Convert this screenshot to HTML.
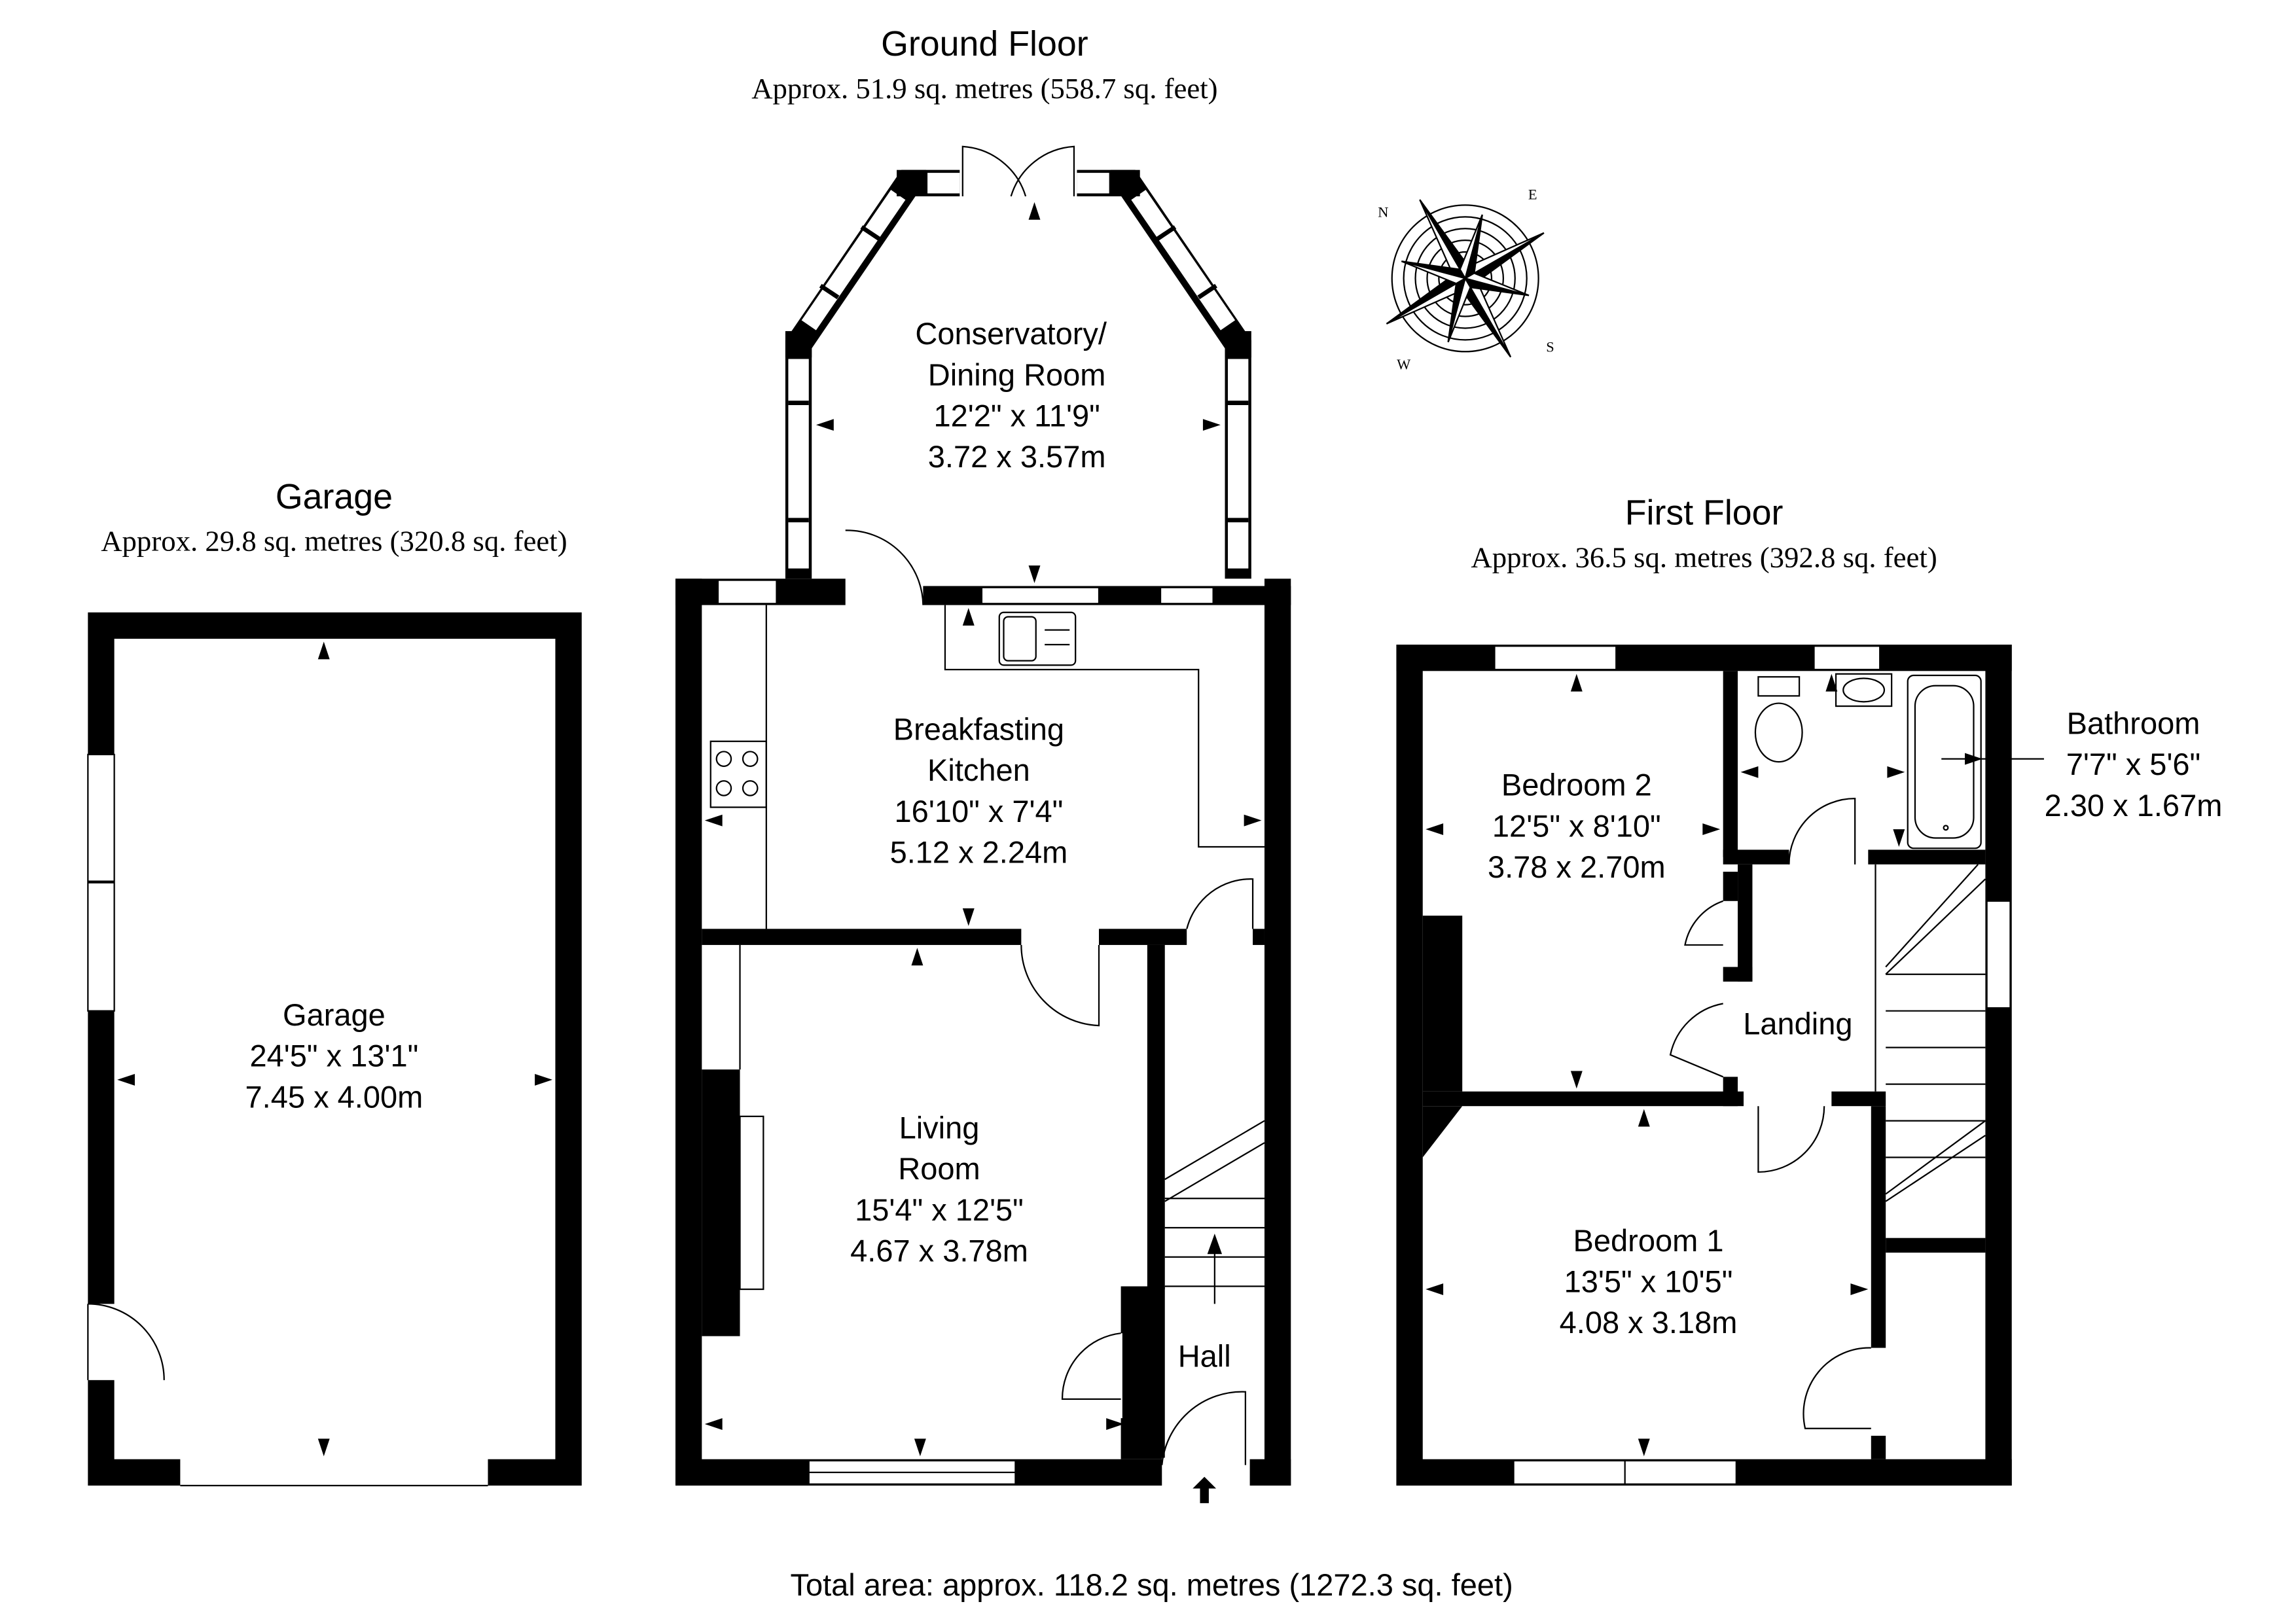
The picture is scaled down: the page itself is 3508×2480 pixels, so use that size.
<!DOCTYPE html>
<html><head><meta charset="utf-8"><style>
html,body{margin:0;padding:0;background:#fff;}
svg{display:block;}
.t{font-family:"Liberation Sans",sans-serif;fill:#000;text-anchor:middle;}
.s{font-family:"Liberation Serif",serif;fill:#000;text-anchor:middle;}
</style></head><body>
<svg width="3508" height="2480" viewBox="0 0 1567 1107.8" xmlns="http://www.w3.org/2000/svg">
<rect width="1567" height="1107.8" fill="#fff"/>
<text class="t" x="672" y="38" font-size="24">Ground Floor</text>
<text class="s" x="672" y="67" font-size="20">Approx. 51.9 sq. metres (558.7 sq. feet)</text>
<text class="t" x="228" y="347" font-size="24">Garage</text>
<text class="s" x="228" y="376" font-size="20">Approx. 29.8 sq. metres (320.8 sq. feet)</text>
<text class="t" x="1163" y="358" font-size="24">First Floor</text>
<text class="s" x="1163" y="387" font-size="20">Approx. 36.5 sq. metres (392.8 sq. feet)</text>
<text class="t" x="786" y="1089" font-size="21">Total area: approx. 118.2 sq. metres (1272.3 sq. feet)</text>

<!-- GARAGE -->
<rect x="60" y="418" width="337" height="596" fill="#000"/>
<rect x="78" y="436" width="301" height="560" fill="#fff"/>
<rect x="60" y="515" width="18" height="175" fill="#fff" stroke="#000" stroke-width="1"/>
<line x1="60" y1="602" x2="78" y2="602" stroke="#000" stroke-width="2"/>
<rect x="59" y="890" width="20" height="52" fill="#fff"/>
<path d="M60 890 A52 52 0 0 1 112 942" fill="none" stroke="#000" stroke-width="1"/>
<line x1="60" y1="890" x2="60" y2="942" stroke="#000" stroke-width="1"/>
<rect x="123" y="995" width="210" height="20" fill="#fff"/>
<line x1="123" y1="1014" x2="333" y2="1014" stroke="#000" stroke-width="1"/>
<text class="t" x="228" y="700" font-size="21">Garage</text>
<text class="t" x="228" y="728" font-size="21">24'5" x 13'1"</text>
<text class="t" x="228" y="756" font-size="21">7.45 x 4.00m</text>
<g fill="#000">
<path d="M221 438 l-4 12 h8z"/><path d="M221 994 l-4 -12 h8z"/>
<path d="M80 737 l12 -4 v8z"/><path d="M377 737 l-12 -4 v8z"/>
</g>

<!-- GROUND FLOOR -->
<g fill="#000">
<rect x="461" y="395" width="18" height="619"/>
<rect x="863" y="395" width="18" height="619"/>
<rect x="461" y="395" width="116" height="18"/>
<rect x="630" y="400" width="251" height="13"/>
<rect x="461" y="996" width="420" height="18"/>
<rect x="479" y="634" width="218" height="11"/>
<rect x="750" y="634" width="60" height="11"/>
<rect x="783" y="645" width="12" height="235"/>
<rect x="765" y="878" width="30" height="118"/>
<rect x="479" y="730" width="26" height="182"/>
</g>
<rect x="490" y="396" width="40" height="16" fill="#fff" stroke="#000" stroke-width="1"/>
<rect x="670" y="401" width="80" height="11" fill="#fff" stroke="#000" stroke-width="1"/>
<rect x="792" y="401" width="36" height="11" fill="#fff" stroke="#000" stroke-width="1"/>
<rect x="552" y="997" width="141" height="16" fill="#fff" stroke="#000" stroke-width="1"/>
<line x1="552" y1="1005" x2="693" y2="1005" stroke="#000" stroke-width="1"/>
<rect x="793" y="995" width="60" height="20" fill="#fff"/>
<path d="M793 1000 A55 55 0 0 1 850 950 V1000" fill="none" stroke="#000" stroke-width="1"/>
<rect x="810" y="634" width="53" height="11" fill="#fff"/>
<rect x="855" y="634" width="8" height="11" fill="#000"/>
<path d="M810 634 A45 45 0 0 1 855 600 V634" fill="none" stroke="#000" stroke-width="1"/>
<path d="M697 645 A55 55 0 0 0 750 700 V645" fill="none" stroke="#000" stroke-width="1"/>
<rect x="764" y="910" width="2" height="58" fill="#fff"/>
<path d="M765 910 A45 45 0 0 0 725 955 H765" fill="none" stroke="#000" stroke-width="1"/>
<path d="M577 362 A52 52 0 0 1 630 413" fill="none" stroke="#000" stroke-width="1"/>
<g fill="none" stroke="#000" stroke-width="1">
<line x1="523" y1="413" x2="523" y2="634"/>
<polyline points="645,413 645,457 818,457 818,578 863,578"/>
<rect x="682" y="418" width="52" height="36" rx="3"/>
<rect x="685" y="421" width="22" height="30" rx="3"/>
<line x1="713" y1="430" x2="730" y2="430"/><line x1="713" y1="440" x2="730" y2="440"/>
<rect x="485" y="506" width="38" height="45"/>
<circle cx="494" cy="518" r="5"/><circle cx="512" cy="518" r="5"/>
<circle cx="494" cy="538" r="5"/><circle cx="512" cy="538" r="5"/>
<line x1="505" y1="645" x2="505" y2="730"/>
<rect x="505" y="762" width="16" height="118"/>
<polyline points="795,805 863,765"/><polyline points="795,820 863,780"/>
<line x1="795" y1="818" x2="863" y2="818"/><line x1="795" y1="838" x2="863" y2="838"/>
<line x1="795" y1="858" x2="863" y2="858"/><line x1="795" y1="878" x2="863" y2="878"/>
<line x1="829" y1="850" x2="829" y2="890"/>
</g>
<path d="M829 842 l-5 14 h10z" fill="#000"/>
<path d="M822 1008 l-8 8 h5 v10 h6 v-10 h5z" fill="#000"/>
<polyline points="545,395 545,235 620,125 655,125" fill="none" stroke="#000" stroke-width="18"/>
<polyline points="845,395 845,235 770,125 735,125" fill="none" stroke="#000" stroke-width="18"/>
<polyline points="545,388 545,245" fill="none" stroke="#fff" stroke-width="14"/>
<polyline points="845,388 845,245" fill="none" stroke="#fff" stroke-width="14"/>
<polyline points="552,222 613,133" fill="none" stroke="#fff" stroke-width="12"/>
<polyline points="838,222 777,133" fill="none" stroke="#fff" stroke-width="12"/>
<polyline points="633,125 655,125" fill="none" stroke="#fff" stroke-width="14"/>
<polyline points="735,125 757,125" fill="none" stroke="#fff" stroke-width="14"/>
<g stroke="#000" stroke-width="3">
<line x1="538" y1="275" x2="552" y2="275"/><line x1="538" y1="355" x2="552" y2="355"/>
<line x1="838" y1="275" x2="852" y2="275"/><line x1="838" y1="355" x2="852" y2="355"/>
<line x1="560" y1="195" x2="572" y2="203"/><line x1="588" y1="155" x2="600" y2="163"/>
<line x1="830" y1="195" x2="818" y2="203"/><line x1="802" y1="155" x2="790" y2="163"/>
</g>
<g fill="#000"><rect x="612" y="116" width="20" height="18"/><rect x="758" y="116" width="20" height="18"/>
<rect x="536" y="226" width="18" height="18"/><rect x="836" y="226" width="18" height="18"/></g>
<path d="M657 134 V100 A48 48 0 0 1 700 134 M733 134 V100 A48 48 0 0 0 690 134" fill="none" stroke="#000" stroke-width="1"/>
<g fill="#000">
<path d="M706 138 l-4 12 h8z"/><path d="M706 398 l-4 -12 h8z"/>
<path d="M557 290 l12 -4 v8z"/><path d="M833 290 l-12 -4 v8z"/>
<path d="M661 415 l-4 12 h8z"/><path d="M661 632 l-4 -12 h8z"/>
<path d="M481 560 l12 -4 v8z"/><path d="M861 560 l-12 -4 v8z"/>
<path d="M626 647 l-4 12 h8z"/><path d="M628 994 l-4 -12 h8z"/>
<path d="M481 972 l12 -4 v8z"/><path d="M767 972 l-12 -4 v8z"/>
</g>
<text class="t" x="690" y="235" font-size="21">Conservatory/</text>
<text class="t" x="694" y="263" font-size="21">Dining Room</text>
<text class="t" x="694" y="291" font-size="21">12'2" x 11'9"</text>
<text class="t" x="694" y="319" font-size="21">3.72 x 3.57m</text>
<text class="t" x="668" y="505" font-size="21">Breakfasting</text>
<text class="t" x="668" y="533" font-size="21">Kitchen</text>
<text class="t" x="668" y="561" font-size="21">16'10" x 7'4"</text>
<text class="t" x="668" y="589" font-size="21">5.12 x 2.24m</text>
<text class="t" x="641" y="777" font-size="21">Living</text>
<text class="t" x="641" y="805" font-size="21">Room</text>
<text class="t" x="641" y="833" font-size="21">15'4" x 12'5"</text>
<text class="t" x="641" y="861" font-size="21">4.67 x 3.78m</text>
<text class="t" x="822" y="933" font-size="21">Hall</text>

<!-- COMPASS -->
<g transform="translate(1000,190)" fill="none" stroke="#000" stroke-width="1">
<circle r="50"/><circle r="42"/><circle r="34"/><circle r="26"/><circle r="18"/>
<g transform="rotate(-30)">
<path d="M0 -62 L6 -6 L0 0z M0 62 L-6 6 L0 0z M-62 0 L-6 -6 L0 0z M62 0 L6 6 L0 0z" fill="#000"/>
<path d="M0 -62 L-6 -6 L0 0z M0 62 L6 6 L0 0z M-62 0 L-6 6 L0 0z M62 0 L6 -6 L0 0z" fill="#fff"/>
<g transform="rotate(45)">
<path d="M0 -45 L5 -5 L0 0z M0 45 L-5 5 L0 0z M-45 0 L-5 -5 L0 0z M45 0 L5 5 L0 0z" fill="#000"/>
<path d="M0 -45 L-5 -5 L0 0z M0 45 L5 5 L0 0z M-45 0 L-5 5 L0 0z M45 0 L5 -5 L0 0z" fill="#fff"/>
</g></g></g>
<text class="s" x="944" y="148" font-size="10">N</text><text class="s" x="1046" y="136" font-size="10">E</text>
<text class="s" x="1058" y="240" font-size="10">S</text><text class="s" x="958" y="252" font-size="10">W</text>

<!-- FIRST FLOOR -->
<g fill="#000">
<rect x="953" y="440" width="18" height="574"/>
<rect x="1355" y="440" width="18" height="574"/>
<rect x="953" y="440" width="420" height="18"/>
<rect x="953" y="996" width="420" height="18"/>
<rect x="971" y="745" width="219" height="10"/>
<rect x="1250" y="745" width="37" height="10"/>
<rect x="1277" y="755" width="10" height="165"/>
<rect x="1277" y="980" width="10" height="16"/>
<rect x="1176" y="458" width="10" height="127"/>
<rect x="1176" y="580" width="45" height="10"/>
<rect x="1275" y="580" width="80" height="10"/>
<rect x="1186" y="590" width="10" height="80"/>
<rect x="1176" y="660" width="20" height="10"/>
<rect x="1176" y="595" width="10" height="20"/>
<rect x="1176" y="735" width="10" height="20"/>
<rect x="1287" y="845" width="68" height="10"/>
<rect x="971" y="625" width="27" height="120"/>
<path d="M971 755 L998 755 L971 790z"/>
</g>
<rect x="1020" y="441" width="83" height="16" fill="#fff" stroke="#000" stroke-width="1"/>
<rect x="1238" y="441" width="45" height="16" fill="#fff" stroke="#000" stroke-width="1"/>
<rect x="1356" y="615" width="16" height="73" fill="#fff" stroke="#000" stroke-width="1"/>
<rect x="1033" y="997" width="152" height="16" fill="#fff" stroke="#000" stroke-width="1"/>
<line x1="1109" y1="997" x2="1109" y2="1013" stroke="#000"/>
<g fill="none" stroke="#000" stroke-width="1">
<path d="M1176 615 A40 40 0 0 0 1150 645 H1176"/>
<path d="M1176 685 A45 45 0 0 0 1140 720 L1176 735"/>
<path d="M1221 590 A45 45 0 0 1 1266 545 V590"/>
<path d="M1200 755 V800 A45 45 0 0 0 1245 755"/>
<path d="M1277 920 A45 45 0 0 0 1232 975 H1277"/>
<line x1="1280" y1="590" x2="1280" y2="745"/>
<polyline points="1287,665 1355,600"/><polyline points="1287,660 1350,590"/>
<line x1="1287" y1="665" x2="1355" y2="665"/><line x1="1287" y1="690" x2="1355" y2="690"/>
<line x1="1287" y1="715" x2="1355" y2="715"/><line x1="1287" y1="740" x2="1355" y2="740"/>
<line x1="1287" y1="765" x2="1355" y2="765"/><line x1="1287" y1="790" x2="1355" y2="790"/>
<polyline points="1287,815 1355,765"/><polyline points="1287,820 1355,775"/>
<rect x="1302" y="461" width="50" height="118" rx="4"/>
<rect x="1307" y="468" width="40" height="104" rx="14"/>
<circle cx="1328" cy="565" r="1.5"/>
<rect x="1200" y="462" width="28" height="13"/>
<ellipse cx="1214" cy="500" rx="16" ry="20"/>
<rect x="1253" y="460" width="38" height="22"/>
<ellipse cx="1272" cy="471" rx="14" ry="8"/>
</g>
<g fill="#000">
<path d="M1076 460 l-4 12 h8z"/><path d="M1076 743 l-4 -12 h8z"/>
<path d="M973 566 l12 -4 v8z"/><path d="M1174 566 l-12 -4 v8z"/>
<path d="M1122 757 l-4 12 h8z"/><path d="M1122 994 l-4 -12 h8z"/>
<path d="M973 880 l12 -4 v8z"/><path d="M1275 880 l-12 -4 v8z"/>
<path d="M1188 527 l12 -4 v8z"/><path d="M1300 527 l-12 -4 v8z"/>
<path d="M1250 460 l-4 12 h8z"/><path d="M1296 578 l-4 -12 h8z"/>
<path d="M1353 518 l-12 -4 v8z"/>
</g>
<line x1="1325" y1="518" x2="1395" y2="518" stroke="#000" stroke-width="1"/>
<text class="t" x="1076" y="543" font-size="21">Bedroom 2</text>
<text class="t" x="1076" y="571" font-size="21">12'5" x 8'10"</text>
<text class="t" x="1076" y="599" font-size="21">3.78 x 2.70m</text>
<text class="t" x="1227" y="706" font-size="21">Landing</text>
<text class="t" x="1125" y="854" font-size="21">Bedroom 1</text>
<text class="t" x="1125" y="882" font-size="21">13'5" x 10'5"</text>
<text class="t" x="1125" y="910" font-size="21">4.08 x 3.18m</text>
<text class="t" x="1456" y="501" font-size="21">Bathroom</text>
<text class="t" x="1456" y="529" font-size="21">7'7" x 5'6"</text>
<text class="t" x="1456" y="557" font-size="21">2.30 x 1.67m</text>
</svg>
</body></html>
